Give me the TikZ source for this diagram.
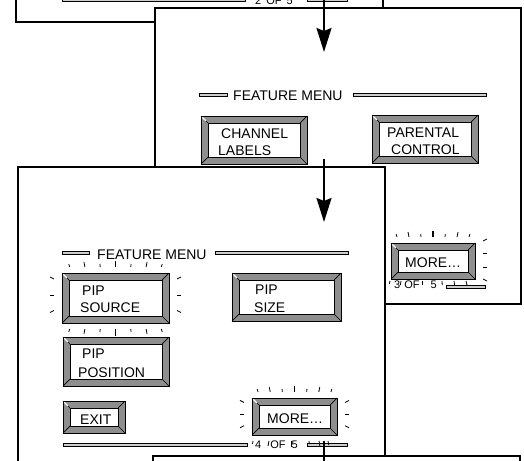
\documentclass[tikz,border=0pt]{standalone}
\usepackage{fontspec}
\setmainfont{Liberation Sans}
\usetikzlibrary{arrows.meta}
\definecolor{btngray}{RGB}{142,142,142}
\definecolor{barfill}{RGB}{205,205,205}

\newcommand{\bevbtn}[4]{%
  \draw[btnouter] (#1,#2) rectangle (#3,#4);
  \draw[btnline] (#1,#2) -- ++(7,7) (#3,#2) -- ++(-7,7) (#1,#4) -- ++(7,-7) (#3,#4) -- ++(-7,-7);
  \draw[btninner] ([shift={(7,7)}]#1,#2) rectangle ([shift={(-7,-7)}]#3,#4);
  \draw[white,line width=1.2pt] ([shift={(1.3,1.3)}]#1,#2) -- ++(3.5,3.5);
}
% horizontal rays: x1, x2, y of edge, direction (-1 up, 1 down)
\newcommand{\raysh}[4]{%
  \foreach \i in {0,...,6} {
    \pgfmathsetmacro{\xx}{#1+(#2-#1)*(\i+0.5)/7}
    \pgfmathsetmacro{\ll}{\i==3 ? 6.5 : (mod(\i,2)==1 ? 5 : 3)}
    \pgfmathsetmacro{\dd}{(\i-3)*0.3*\ll/3}
    \pgfmathsetmacro{\ww}{\i==3 ? 1.4 : 0.8}
    \draw[ray,line width=\ww pt] (\xx,{#3+#4*6}) -- ++(\dd,{#4*\ll});
  }
}
% vertical rays: x of edge, y1, y2, direction (-1 left, 1 right)
\newcommand{\raysv}[4]{%
  \foreach \f/\s in {0.12/-1, 0.45/0, 0.75/1} {
    \draw[ray] ({#1+#4*8},{#2+(#3-#2)*\f}) -- ++({#4*4},{\s*2});
  }
}

\begin{document}
\begin{tikzpicture}[x=1pt,y=-1pt,
  panel/.style={draw=black,fill=white,line width=1.8pt},
  btnouter/.style={draw=black,fill=btngray,line width=0.9pt},
  btnline/.style={draw=black,line width=0.7pt},
  btninner/.style={draw=black,fill=white,line width=0.9pt},
  menubar/.style={draw=black,fill=barfill,line width=0.7pt},
  lbl/.style={font=\fontsize{14}{16}\selectfont,inner sep=0pt,anchor=base west},
  pg/.style={font=\fontsize{11}{13}\selectfont,inner sep=0pt,anchor=base west},
  ray/.style={line width=0.8pt,line cap=butt},
  flow/.style={line width=2pt,-{Stealth[length=24pt,width=15pt,inset=3pt]}},
]
\useasboundingbox (0,0) rectangle (524,460);
\clip (0,0) rectangle (524,460);

% ---------- screen 2 of 5 (top) ----------
\draw[panel] (16,-20) rectangle (383,22);
\draw[menubar] (62,-1.5) rectangle (245,1.5);
\node[pg] (pg2) at (255,4.5) {2\hspace{5pt}OF\hspace{5pt}5};
\draw[menubar] (307,-1.5) rectangle (347,1.5);

% ---------- screen 3 of 5 ----------
\draw[panel] (155,8) rectangle (521,304);
\draw[menubar] (199,93.5) rectangle (227,96.5);
\node[lbl] (fm2) at (233,100.5) {FEATURE MENU};
\draw[menubar] (353,93.5) rectangle (486,96.5);

\bevbtn{201}{116}{307}{164}
\node[lbl] (ch1) at (221,138) {CHANNEL};
\node[lbl] (ch2) at (218,155) {LABELS};

\bevbtn{372}{115}{478}{163}
\node[lbl] (pc1) at (387,137.5) {PARENTAL};
\node[lbl] (pc2) at (391,154) {CONTROL};

\raysh{391}{475}{243}{-1}
\foreach \yy/\s in {241/-1,253/0,267/0,279/1} {
  \draw[ray] (483,\yy) -- ++(4,{\s*2});
}
\bevbtn{391}{243}{475}{279}
\node[lbl] (mo2) at (405,267) {MORE\textellipsis};
\node[pg] (pg3) at (394,288.5) {3\hspace{4pt}OF\hspace{11pt}5};
\foreach \xx/\ll/\dd in {390/3/-0.6, 401/4/-0.6, 422/4/0, 442/4/0.2, 454/4/0.6, 466/5/1.2} {
  \draw[ray] (\xx,281) -- ++(\dd,\ll);
}
\draw[menubar] (446,285) rectangle (485,288);

\coordinate (a1s) at (324,-5);
\coordinate (a1e) at (324,52);
\draw[flow] (a1s) -- (a1e);

% ---------- screen 4 of 5 ----------
\draw[panel] (18,167) rectangle (385,490);
\draw[menubar] (62,251.5) rectangle (89,254.5);
\node[lbl] (fm3) at (97,259) {FEATURE MENU};
\draw[menubar] (215,251.5) rectangle (348,254.5);

\raysh{62}{169}{273}{-1}
\raysh{62}{169}{323}{1}
\raysv{62}{273}{323}{-1}
\raysv{169}{273}{323}{1}
\bevbtn{62}{273}{169}{323}
\node[lbl] (ps1) at (82,295.5) {PIP};
\node[lbl] (ps2) at (80,312.5) {SOURCE};

\bevbtn{232}{273}{341}{321}
\node[lbl] (sz1) at (255,294) {PIP};
\node[lbl] (sz2) at (254,312) {SIZE};

\bevbtn{63}{337}{169}{386}
\node[lbl] (po1) at (82,358.5) {PIP};
\node[lbl] (po2) at (78,377) {POSITION};

\bevbtn{63}{401}{125}{433}
\node[lbl] (ex) at (80,424) {EXIT};

\raysh{252}{337}{398}{-1}
\raysv{252}{398}{435}{-1}
\raysv{337}{398}{435}{1}
\bevbtn{252}{398}{337}{435}
\node[lbl] (mo3) at (267,423) {MORE\textellipsis};

\draw[menubar] (63,443) rectangle (247,446);
\node[pg] (pg4) at (255,448) {4\hspace{9pt}OF\hspace{6pt}5};
\draw[menubar] (307,443) rectangle (347,446);
\foreach \xx/\ll/\dd in {253/3/-0.5, 269/5/-1, 291/6/0, 309/3/0.3, 319/5/0.9, 328/4/0.8} {
  \draw[ray] (\xx,441) -- ++(\dd,\ll);
}

\coordinate (a2s) at (324,159);
\coordinate (a2e) at (324,222);
\draw[flow] (a2s) -- (a2e);

% ---------- screen 5 of 5 (bottom) ----------
\draw[panel] (153,456) rectangle (520,500);
\coordinate (a3s) at (324,441);
\coordinate (a3e) at (324,475);
\draw[line width=2pt] (a3s) -- (a3e);
\end{tikzpicture}
\end{document}
